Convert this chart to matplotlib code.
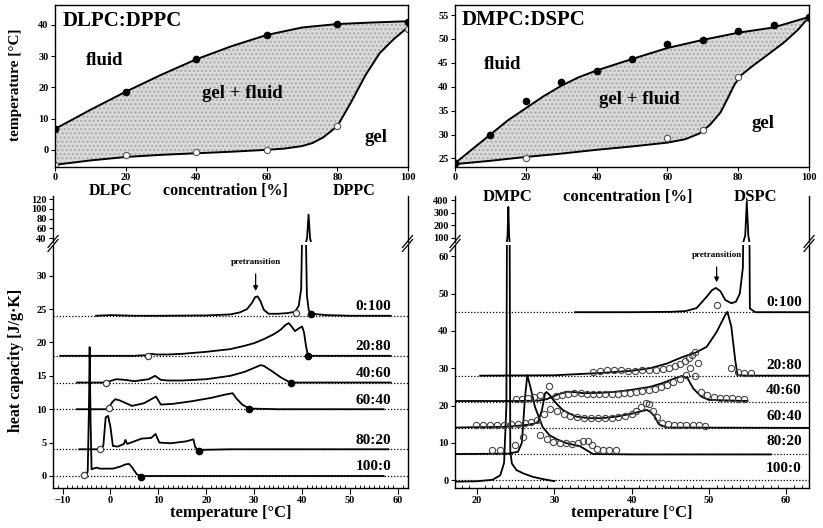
import matplotlib
matplotlib.use("Agg")
import matplotlib.pyplot as plt
import numpy as np
from matplotlib.lines import Line2D

plt.rcParams['font.family'] = ['Liberation Serif', 'DejaVu Serif']
plt.rcParams['font.weight'] = 'bold'
plt.rcParams['axes.linewidth'] = 1.0

# ---------------- Phase diagram data ----------------
# DLPC:DPPC
lp_conc = [0, 20, 40, 60, 80, 100]
lp_fluid_pts = [6.7, 18.5, 29.0, 36.8, 40.3, 41.0]
lp_gel_pts = [-4.8, -1.5, -0.8, 0.0, 7.5, 38.7]
lp_fluid_line_x = [0, 10, 20, 30, 40, 50, 60, 70, 80, 90, 100]
lp_fluid_line_y = [6.7, 12.8, 18.6, 24.0, 29.0, 33.2, 36.8, 39.2, 40.3, 40.8, 41.2]
lp_gel_line_x = [0, 10, 20, 30, 40, 50, 60, 65, 70, 73, 76, 80, 84, 88, 92, 96, 100]
lp_gel_line_y = [-4.8, -3.4, -2.3, -1.6, -1.1, -0.6, 0.0, 0.4, 1.2, 2.2, 4.0, 7.6, 15.5, 24.0, 31.0, 35.5, 39.3]

# DMPC:DSPC
ms_conc_f = [0, 10, 20, 30, 40, 50, 60, 70, 80, 90, 100]
ms_fluid_pts = [24.1, 30.0, 37.0, 40.9, 43.3, 45.9, 48.9, 49.8, 51.7, 53.0, 54.6]
ms_conc_g = [0, 20, 60, 70, 80, 100]
ms_gel_pts = [24.0, 25.0, 29.3, 31.0, 42.0, 54.3]
ms_fluid_line_x = [0, 5, 10, 15, 20, 25, 30, 35, 40, 50, 60, 70, 80, 90, 100]
ms_fluid_line_y = [24.0, 27.0, 30.0, 33.0, 35.5, 38.0, 40.2, 42.0, 43.4, 45.8, 48.1, 49.8, 51.3, 52.4, 54.6]
ms_gel_line_x = [0, 10, 20, 30, 40, 50, 60, 65, 69, 72, 75, 77, 79, 81, 84, 88, 93, 97, 100]
ms_gel_line_y = [23.8, 24.5, 25.3, 26.0, 26.8, 27.5, 28.3, 29.0, 30.2, 32.0, 34.6, 37.5, 40.5, 42.5, 44.3, 46.5, 49.3, 52.0, 54.6]

# ---------------- DSC data: DLPC:DPPC ----------------
L_labels = ['0:100', '20:80', '40:60', '60:40', '80:20', '100:0']
L_base = [24, 18, 14, 10, 4, 0]
L_T = [
    [-3, 0, 5, 10, 20, 25, 27, 28.5, 29.5, 30.2, 30.7, 31.3, 32, 33, 35, 37, 38.5, 39.3, 39.8, 40.1, 40.4, 40.7, 41.0, 41.4, 42, 45, 50, 58.5],
    [-10.5, -5, 0, 5, 7.5, 8.5, 9.5, 12, 15, 20, 25, 28, 30, 32, 34, 35.5, 36.5, 37.2, 37.8, 38.5, 39.3, 40.0, 40.4, 40.8, 41.2, 42, 50, 58.5],
    [-7, -1, 0.3, 1.2, 3, 5, 8, 9.3, 10.5, 12, 15, 20, 25, 28, 30, 31.3, 32, 33.5, 35.5, 37.5, 45, 58.5],
    [-7, -1, -0.4, 0.3, 1.0, 2.0, 4.5, 7, 8.5, 9.5, 10.5, 13, 17, 21, 24, 25.5, 26.3, 27.5, 29, 35, 57],
    [-6.5, -2.2, -1.5, -1.0, -0.5, 0.0, 0.5, 1.5, 2.8, 3.1, 3.5, 5, 6.5, 8.5, 9.4, 10.2, 12.6, 15.9, 17.3, 17.7, 18.3, 25, 58],
    [-6.0, -5.0, -4.75, -4.5, -4.35, -4.15, -3.95, -3.6, -2.9, -2.2, 0.5, 2, 3.2, 3.9, 4.5, 5.5, 6.2, 10, 57],
]
L_Cp = [
    [24, 24.1, 24.0, 24.0, 24.05, 24.2, 24.5, 25.0, 25.9, 26.8, 26.9, 26.2, 24.9, 24.3, 24.3, 24.4, 24.6, 25.5, 28, 40, 88, 40, 27, 24.8, 24.3, 24.1, 24.0, 24.0],
    [18, 18, 18, 18, 18.1, 18.3, 18.2, 18.2, 18.3, 18.6, 19.0, 19.5, 19.9, 20.5, 21.2, 21.9, 22.6, 22.9, 22.4, 21.7, 22.1, 22.4, 21.5, 19.5, 18.1, 18.0, 18.0, 18.0],
    [14, 14, 14.3, 14.5, 14.4, 14.2, 14.5, 15.0, 14.4, 14.3, 14.3, 14.5, 15.0, 15.6, 16.2, 16.6, 16.5, 15.8, 14.8, 14.0, 14.0, 14.0],
    [10, 10, 10.2, 11.0, 11.5, 11.3, 10.5, 10.9, 11.5, 11.9, 10.7, 10.8, 11.2, 11.7, 12.2, 12.4, 11.6, 10.7, 10.1, 10.0, 10.0],
    [4, 4, 4.5, 8.8, 9.0, 7.3, 4.5, 4.4, 4.8, 5.4, 4.8, 5.2, 5.6, 5.7, 6.3, 5.0, 4.9, 5.2, 5.5, 4.3, 3.9, 4, 4],
    [0, 0.05, 0.8, 10, 19.3, 8, 1.0, 1.1, 1.25, 1.1, 1.1, 1.4, 1.75, 1.8, 1.3, 0.25, 0, 0, 0],
]
L_open_T = [38.7, 7.8, -0.9, -0.4, -2.1, -5.6]
L_open_Cp = [24.4, 18.0, 13.9, 10.2, 4.1, 0.1]
L_fill_T = [41.8, 41.2, 37.7, 29.0, 18.5, 6.4]
L_fill_Cp = [24.2, 18.0, 14.0, 10.1, 3.8, -0.1]

# ---------------- DSC data: DMPC:DSPC ----------------
R_labels = ['0:100', '20:80', '40:60', '60:40', '80:20', '100:0']
R_base = [45, 28, 21, 14, 7, 0]
R_T = [
    [32.7, 40, 45, 47, 48.4, 49.7, 50.4, 50.9, 51.5, 52.1, 52.9, 53.5, 54.0, 54.4, 54.7, 54.9, 55.1, 55.3, 56, 63],
    [20.4, 30, 35.9, 40, 42.4, 44.5, 46.6, 48.3, 49.7, 51.0, 52.1, 52.4, 52.9, 53.4, 53.7, 55, 63],
    [17.2, 25, 28, 29.0, 29.6, 30.5, 31.6, 32.5, 33.8, 36, 38, 40, 42.4, 44, 45.5, 46.5, 47.2, 48, 49, 50, 55],
    [17.2, 24, 26.4, 27.3, 27.9, 28.4, 28.8, 29.0, 29.4, 29.9, 30.5, 31.1, 32.0, 32.9, 34.6, 36, 38, 40, 41.5, 42.0, 42.5, 43.0, 43.5, 44.5, 62.9],
    [17.2, 24, 25.3, 25.8, 26.2, 26.5, 26.9, 27.5, 28.5, 29.4, 30.5, 31.6, 33.3, 34.2, 35, 40, 58],
    [17.2, 20, 22, 23.0, 23.5, 23.8, 23.95, 24.05, 24.15, 24.3, 24.5, 25.1, 26, 27.2, 28.5, 29.8, 30.0],
]
R_Cp = [
    [45, 45, 45.1, 45.3, 46.1, 49.1, 50.9, 51.5, 50.6, 48.3, 47.4, 47.8, 50, 57, 120, 387, 120, 46, 45, 45],
    [28, 28.1, 28.7, 29.3, 30.0, 31.2, 33.0, 34.2, 35.7, 39.7, 44.2, 45.1, 41.1, 32.2, 28.1, 28, 28],
    [21.2, 21.2, 21.3, 21.7, 22.2, 23.0, 23.7, 23.6, 23.3, 23.4, 23.7, 24.2, 25.0, 26.0, 27.2, 27.9, 27.4, 24.5, 22.4, 21.5, 21.2],
    [14.1, 14.3, 14.8, 15.1, 15.6, 18.8, 23.3, 23.6, 22.8, 21.4, 20.0, 18.8, 17.8, 17.0, 16.6, 16.6, 17.0, 17.8, 18.6, 18.8, 18.2, 17.0, 15.0, 14.1, 14.0],
    [7, 7.1, 7.6, 10, 22, 28.1, 25, 19.6, 14.2, 12.0, 10.8, 9.9, 9.1, 8.0, 7.0, 6.9, 6.9],
    [-0.4, -0.3, 0.1, 1.3, 4.6, 20, 120, 345, 120, 8, 4.5, 2.7, 1.8, 0.9, 0.3, -0.2, -0.2],
]
# measured (open circle) points
R_c100_T = [51.0]
R_c100_Cp = [46.8]
R_c80_T = [35.0, 35.9, 36.8, 37.7, 38.6, 39.5, 40.4, 41.3, 42.2, 43.1, 44.0, 44.9, 45.6, 46.3, 46.9, 47.4, 47.8, 48.2, 48.6, 52.9, 53.8, 54.6, 55.4]
R_c80_Cp = [29.0, 29.3, 29.4, 29.4, 29.4, 29.3, 29.3, 29.4, 29.5, 29.6, 29.8, 30.0, 30.6, 31.2, 31.8, 32.6, 33.4, 34.4, 31.3, 30.0, 29.0, 28.8, 28.6]
R_c60_T = [25.0, 25.8, 26.6, 27.4, 28.2, 29.3, 30.2, 31.0, 31.8, 32.6, 33.4, 34.2, 35.0, 35.8, 36.6, 37.4, 38.2, 39.0, 39.8, 40.6, 41.4, 42.2, 43.0, 43.8, 44.6, 45.4, 46.2, 47.0, 47.6, 48.2, 49.0, 49.8, 50.6, 51.4, 52.2, 53.0, 53.8, 54.6]
R_c60_Cp = [21.7, 21.8, 22.0, 22.2, 22.8, 25.3, 22.6, 22.8, 23.2, 23.4, 23.3, 23.0, 23.0, 23.0, 23.1, 23.2, 23.2, 23.3, 23.4, 23.6, 23.9, 24.2, 24.5, 25.0, 25.6, 26.3, 27.2, 28.3, 30.0, 28.0, 23.5, 22.7, 22.3, 22.0, 22.0, 21.9, 21.8, 21.7]
R_c40_T = [19.9, 20.8, 21.7, 22.6, 23.5, 24.4, 25.3, 26.2, 27.0, 27.8, 28.7, 29.5, 30.3, 31.2, 32.0, 32.9, 33.8, 34.7, 35.6, 36.5, 37.4, 38.3, 39.2, 40.0, 40.6, 41.2, 41.8, 42.3, 42.8, 43.3, 43.9, 44.7, 45.5, 46.3, 47.1, 47.9, 48.7, 49.5]
R_c40_Cp = [14.7, 14.7, 14.7, 14.8, 14.9, 15.0, 15.0, 15.2, 15.6, 16.0, 17.6, 19.0, 18.4, 17.8, 17.3, 16.9, 16.7, 16.6, 16.6, 16.6, 16.7, 16.8, 17.2, 17.8, 18.6, 19.6, 20.6, 20.3, 18.6, 16.8, 15.4, 15.0, 14.9, 14.8, 14.8, 14.8, 14.7, 14.6]
R_c20_T = [21.9, 23.0, 24.9, 26.0, 28.1, 29.0, 29.8, 30.7, 31.5, 32.3, 33.1, 33.7, 34.3, 34.9, 35.5, 36.3, 37.1, 38.0]
R_c20_Cp = [8.0, 8.2, 9.4, 11.5, 12.0, 11.0, 10.3, 10.0, 9.9, 9.8, 10.0, 10.5, 10.5, 9.5, 8.4, 8.2, 8.1, 8.1]

# ---------------- Figure ----------------
W, H = 823, 528
fig = plt.figure(figsize=(W / 100, H / 100), dpi=100)


def ax_px(x0, y0, x1, y1):
    return fig.add_axes([x0 / W, 1 - y1 / H, (x1 - x0) / W, (y1 - y0) / H])


def fig_text(x, y, s, **kw):
    fig.text(x / W, 1 - y / H, s, **kw)


TICKFS = 7.5
tick_kw = dict(labelsize=TICKFS, width=0.8, length=3, pad=1.5)

# ---------- Top-left phase diagram ----------
axA = ax_px(55, 5, 408, 167)
axA.fill(lp_fluid_line_x + lp_gel_line_x[::-1], lp_fluid_line_y + lp_gel_line_y[::-1],
         facecolor='#dadada', edgecolor='#a8a8a8', hatch='....', lw=0)
axA.plot(lp_fluid_line_x, lp_fluid_line_y, color='black', lw=1.4)
axA.plot(lp_gel_line_x, lp_gel_line_y, color='black', lw=1.4)
axA.plot(lp_conc, lp_fluid_pts, 'o', color='black', ms=4.5)
axA.plot(lp_conc, lp_gel_pts, 'o', mfc='white', mec='#555555', ms=4.5, mew=0.8)
axA.set_xlim(0, 100)
axA.set_ylim(-5.5, 46.4)
axA.set_xticks([0, 20, 40, 60, 80, 100])
axA.set_yticks([0, 10, 20, 30, 40])
axA.tick_params(**tick_kw)
axA.tick_params(axis='x', pad=1)
axA.text(0.022, 0.9, 'DLPC:DPPC', transform=axA.transAxes, fontsize=15, fontweight='bold', va='center')
axA.text(0.142, 0.66, 'fluid', transform=axA.transAxes, fontsize=13.5, fontweight='bold', va='center', ha='center')
axA.text(0.53, 0.455, 'gel + fluid', transform=axA.transAxes, fontsize=13.5, fontweight='bold', va='center', ha='center')
axA.text(0.91, 0.185, 'gel', transform=axA.transAxes, fontsize=13.5, fontweight='bold', va='center', ha='center')
fig_text(16, 85, 'temperature [°C]', rotation=90, fontsize=11, fontweight='bold', ha='center', va='center')
fig_text(111, 191, 'DLPC', fontsize=11.5, fontweight='bold', ha='center', va='center')
fig_text(225, 191, 'concentration [%]', fontsize=11.5, fontweight='bold', ha='center', va='center')
fig_text(354, 191, 'DPPC', fontsize=11.5, fontweight='bold', ha='center', va='center')

# ---------- Top-right phase diagram ----------
axB = ax_px(455, 5, 809, 167)
axB.fill(ms_fluid_line_x + ms_gel_line_x[::-1], ms_fluid_line_y + ms_gel_line_y[::-1],
         facecolor='#dadada', edgecolor='#a8a8a8', hatch='....', lw=0)
axB.plot(ms_fluid_line_x, ms_fluid_line_y, color='black', lw=1.4)
axB.plot(ms_gel_line_x, ms_gel_line_y, color='black', lw=1.4)
axB.plot(ms_conc_g, ms_gel_pts, 'o', mfc='white', mec='#555555', ms=4.5, mew=0.8)
axB.plot(ms_conc_f, ms_fluid_pts, 'o', color='black', ms=4.5)
axB.set_xlim(0, 100)
axB.set_ylim(23.2, 57.1)
axB.set_xticks([0, 20, 40, 60, 80, 100])
axB.set_yticks([25, 30, 35, 40, 45, 50, 55])
axB.tick_params(**tick_kw)
axB.tick_params(axis='x', pad=1)
axB.text(0.02, 0.905, 'DMPC:DSPC', transform=axB.transAxes, fontsize=15, fontweight='bold', va='center')
axB.text(0.135, 0.63, 'fluid', transform=axB.transAxes, fontsize=13.5, fontweight='bold', va='center', ha='center')
axB.text(0.52, 0.415, 'gel + fluid', transform=axB.transAxes, fontsize=13.5, fontweight='bold', va='center', ha='center')
axB.text(0.87, 0.27, 'gel', transform=axB.transAxes, fontsize=13.5, fontweight='bold', va='center', ha='center')
fig_text(508, 197, 'DMPC', fontsize=12, fontweight='bold', ha='center', va='center')
fig_text(628, 197, 'concentration [%]', fontsize=12, fontweight='bold', ha='center', va='center')
fig_text(755, 197, 'DSPC', fontsize=12, fontweight='bold', ha='center', va='center')


def dsc_axes(x0, x1, ylo_lower, yhi_lower, ylo_up, yhi_up, xlim, yt_low, yt_up, xt):
    up = ax_px(x0, 196, x1, 242)
    lo = ax_px(x0, 245, x1, 488)
    for a in (up, lo):
        a.set_xlim(*xlim)
        a.spines['top'].set_visible(False)
        a.tick_params(**tick_kw)
    up.spines['bottom'].set_visible(False)
    up.set_xticks([])
    up.set_ylim(ylo_up, yhi_up)
    up.set_yticks(yt_up)
    lo.set_ylim(ylo_lower, yhi_lower)
    lo.set_yticks(yt_low)
    lo.set_xticks(xt)
    lo.set_xticks(np.arange(xt[0] - 2, xt[-1] + 3, 1), minor=True)
    lo.tick_params(axis='x', which='minor', length=2, width=0.6, direction='in')
    lo.tick_params(axis='x', which='major', length=4)
    # break marks
    for xp in (x0, x1):
        for dy in (-2, 2):
            fig.add_artist(Line2D([(xp - 5) / W, (xp + 5) / W],
                                  [1 - (243.5 + dy + 6) / H, 1 - (243.5 + dy - 6) / H],
                                  color='black', lw=0.9))
    return up, lo


# ---------- Bottom-left DSC ----------
upL, loL = dsc_axes(53, 407.5, -1.8, 34.6, 31.8, 126.2, (-11, 60.3),
                    [0, 5, 10, 15, 20, 25, 30], [40, 60, 80, 100, 120],
                    [-10, 0, 10, 20, 30, 40, 50, 60])
for i in range(6):
    loL.axhline(L_base[i], color='black', lw=0.9, ls=(0, (1, 1.5)))
    for a in (loL, upL):
        a.plot(L_T[i], L_Cp[i], color='black', lw=1.3)
    loL.text(58.6, L_base[i] + 1.35, L_labels[i], fontsize=11, fontweight='bold', ha='right', va='center')
loL.plot(L_open_T, L_open_Cp, 'o', mfc='white', mec='#444444', ms=4.5, mew=0.9)
loL.plot(L_fill_T, L_fill_Cp, 'o', color='black', ms=4.5)
loL.annotate('pretransition', xy=(30.3, 27.7), xytext=(30.3, 32.1), fontsize=6.5, fontweight='bold',
             ha='center', va='center', arrowprops=dict(arrowstyle='-|>', color='black', lw=0.9, mutation_scale=7,
                                                       shrinkA=4, shrinkB=0))
loL.set_xlabel('temperature [°C]', fontsize=12, fontweight='bold', labelpad=0)
fig_text(16, 360, 'heat capacity [J/g·K]', rotation=90, fontsize=11.5, fontweight='bold', ha='center', va='center')

# ---------- Bottom-right DSC ----------
upR, loR = dsc_axes(455, 809, -2.1, 63.0, 68.4, 431.6, (17.15, 62.95),
                    [0, 10, 20, 30, 40, 50, 60], [100, 200, 300, 400],
                    [20, 30, 40, 50, 60])
for i in range(6):
    loR.axhline(R_base[i], color='black', lw=0.9, ls=(0, (1, 1.5)))
    for a in (loR, upR):
        a.plot(R_T[i], R_Cp[i], color='black', lw=1.3)
R_lab_y = [47.5, 30.8, 24.1, 17.0, 10.3, 3.1]
for i in range(6):
    loR.text(62.0, R_lab_y[i], R_labels[i], fontsize=11, fontweight='bold', ha='right', va='center')
oc = dict(mfc='none', mec='#444444', ms=4.5, mew=0.8, ls='none', marker='o')
loR.plot(R_c100_T, R_c100_Cp, **oc)
loR.plot(R_c80_T, R_c80_Cp, **oc)
loR.plot(R_c60_T, R_c60_Cp, **oc)
loR.plot(R_c40_T, R_c40_Cp, **oc)
loR.plot(R_c20_T, R_c20_Cp, **oc)
loR.annotate('pretransition', xy=(51.0, 53.0), xytext=(51.0, 60.4), fontsize=6.5, fontweight='bold',
             ha='center', va='center', arrowprops=dict(arrowstyle='-|>', color='black', lw=0.9, mutation_scale=7,
                                                       shrinkA=4, shrinkB=0))
loR.set_xlabel('temperature [°C]', fontsize=12, fontweight='bold', labelpad=0)

fig.savefig('out.png', dpi=100)
